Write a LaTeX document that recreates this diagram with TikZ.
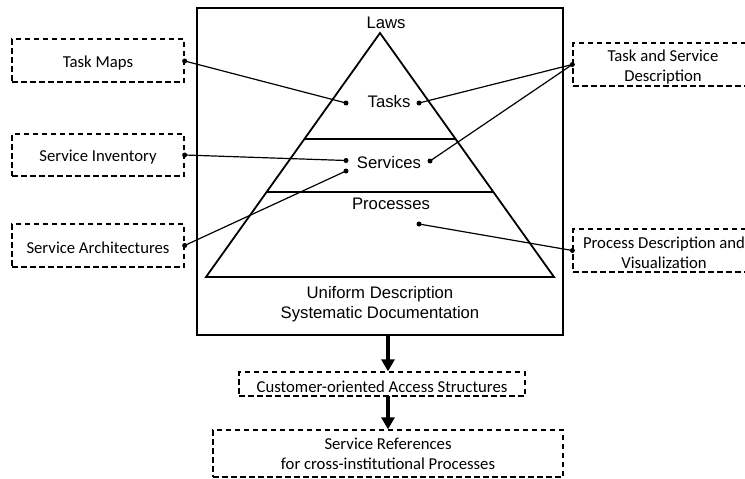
\documentclass[tikz,border=0pt]{standalone}
\usepackage{fontspec}
\setmainfont{Liberation Sans}
\newfontfamily\carlitofont{Carlito}
\usetikzlibrary{arrows.meta}
\begin{document}
\begin{tikzpicture}[x=1pt,y=-1pt,
  dbox/.style={draw, dashed, dash pattern=on 5.5pt off 3.5pt, line width=1.3pt, inner sep=0pt},
  dtext/.style={font=\carlitofont\fontsize{16.7}{20}\selectfont, align=center, inner sep=0pt, yshift=-2.5pt},
  plabel/.style={font=\fontsize{16.7}{20}\selectfont, align=center, inner sep=0pt},
  conn/.style={line width=1.2pt},
  dot/.style={circle, fill=black, inner sep=0pt, minimum size=5pt},
  bigarrow/.style={line width=4pt, -{Triangle[width=13pt,length=12pt]}}
]
\useasboundingbox (0,0) rectangle (745,479);
\clip (0,0) rectangle (745,479);
% main frame
\node[draw, line width=1.8pt, minimum width=366pt, minimum height=327pt, inner sep=0pt] (frame) at (380,171.5) {};
% pyramid
\coordinate (apex) at (380,33);
\coordinate (bl) at (206,277);
\coordinate (br) at (554,277);
\draw[line width=1.8pt, line join=miter] (apex) -- (br) -- (bl) -- cycle;
\coordinate (d1l) at (304.4,139); \coordinate (d1r) at (455.6,139);
\coordinate (d2l) at (266.6,192); \coordinate (d2r) at (493.4,192);
\draw[line width=1.8pt] (d1l) -- (d1r);
\draw[line width=1.8pt] (d2l) -- (d2r);
% labels
\node[plabel] (laws) at (386,23) {Laws};
\node[plabel] (tasks) at (389,102) {Tasks};
\node[plabel] (services) at (389,163) {Services};
\node[plabel] (processes) at (391,204) {Processes};
\node[plabel] (uniform) at (380,304) {Uniform Description\\Systematic Documentation};
% dots inside pyramid
\node[dot] (tL) at (346,103) {};
\node[dot] (tR) at (419,103) {};
\node[dot] (sL) at (346,160.5) {};
\node[dot] (sL2) at (346,171) {};
\node[dot] (sR) at (430,161) {};
\node[dot] (pR) at (419,224) {};
% left boxes
\node[dbox, minimum width=172pt, minimum height=43pt, label={[dtext]center:Task Maps}] (taskmaps) at (98,60.5) {};
\node[dbox, minimum width=172pt, minimum height=42pt, label={[dtext]center:Service Inventory}] (inventory) at (98,155) {};
\node[dbox, minimum width=172pt, minimum height=43pt, label={[dtext]center:Service Architectures}] (arch) at (98,245.5) {};
% right boxes
\node[dbox, minimum width=182pt, minimum height=43pt, label={[dtext, xshift=-1pt]center:Task and Service\\Description}] (tsdesc) at (664,64.5) {};
\node[dbox, minimum width=182pt, minimum height=43pt, label={[dtext]center:Process Description and\\Visualization}] (pdesc) at (664,250.5) {};
% bottom boxes
\node[dbox, minimum width=286pt, minimum height=24pt, label={[dtext]center:Customer-oriented Access Structures}] (access) at (382,384) {};
\node[dbox, minimum width=350pt, minimum height=47pt, label={[dtext, yshift=2pt]center:Service References\\for cross-institutional Processes}] (refs) at (388,453.5) {};
% endpoints on boxes
\node[dot] (tmE) at ([yshift=-0.5pt]taskmaps.east) {};
\node[dot] (invE) at (inventory.east) {};
\node[dot] (archE) at (arch.east) {};
\node[dot] (tsW) at (tsdesc.west) {};
\node[dot] (pW) at (pdesc.west) {};
% connectors
\draw[conn] (tmE.center) -- (tL.center);
\draw[conn] (invE.center) -- (sL.center);
\draw[conn] (archE.center) -- (sL2.center);
\draw[conn] (tsW.center) -- (tR.center);
\draw[conn] (tsW.center) -- (sR.center);
\draw[conn] (pW.center) -- (pR.center);
% arrows
\coordinate (a1s) at (388,335);
\coordinate (a2s) at (388,396);
\draw[bigarrow] (a1s) -- (a1s |- access.north);
\draw[bigarrow] (a2s) -- (a2s |- refs.north);
\end{tikzpicture}
\end{document}
